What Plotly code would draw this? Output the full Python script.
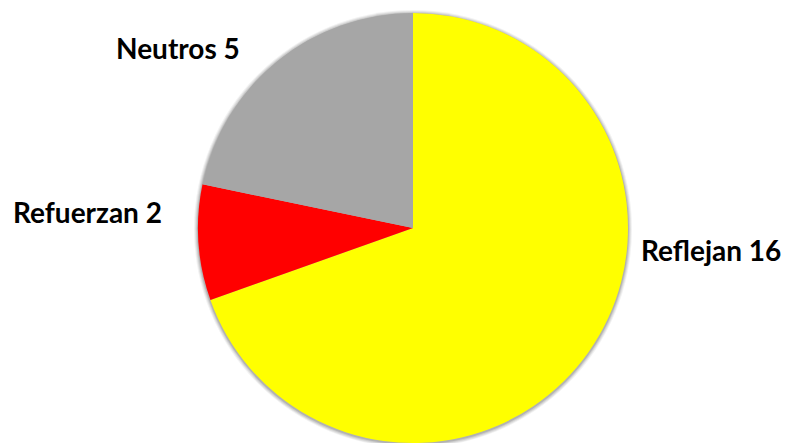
import plotly.graph_objects as go

labels = ["Reflejan", "Refuerzan", "Neutros"]
values = [16, 2, 5]
colors = ["#FFFF00", "#FF0000", "#A6A6A6"]

W, H = 791, 443
# page body has an 8px margin, so figure coords = screen - 8
cx, cy, r = 405, 220, 215

# where each outside label sits (figure px)
label_pos = [(703, 242), (79, 204), (170, 40)]

fig = go.Figure()
fig.add_trace(go.Pie(
    labels=labels,
    values=values,
    marker=dict(colors=colors, line=dict(width=0)),
    sort=False,
    direction="clockwise",
    rotation=0,
    textinfo="none",
    hoverinfo="label+value",
    domain=dict(x=[(cx - r) / W, (cx + r) / W],
                y=[(H - cy - r) / H, (H - cy + r) / H]),
    showlegend=False,
))

# soft shadow round the pie
for d, op in [(4, 0.05), (3, 0.07), (2, 0.09), (1, 0.12)]:
    fig.add_shape(
        type="circle", xref="paper", yref="paper", layer="below",
        x0=(cx - r - d) / W, x1=(cx + r + d) / W,
        y0=(H - cy - r - d - 1) / H, y1=(H - cy + r + d - 1) / H,
        fillcolor=f"rgba(0,0,0,{op})", line=dict(width=0),
    )

for lab, val, (x, y) in zip(labels, values, label_pos):
    fig.add_annotation(
        x=x / W, y=1 - y / H, xref="paper", yref="paper",
        xanchor="center", yanchor="middle",
        text=f"<b>{lab} {val}</b>",
        showarrow=False,
        font=dict(family="Lato, Open Sans, sans-serif", size=28, color="black"),
    )

fig.update_layout(
    width=W, height=H,
    margin=dict(l=0, r=0, t=0, b=0),
    paper_bgcolor="white",
    plot_bgcolor="white",
)

fig.write_html("out.html")
